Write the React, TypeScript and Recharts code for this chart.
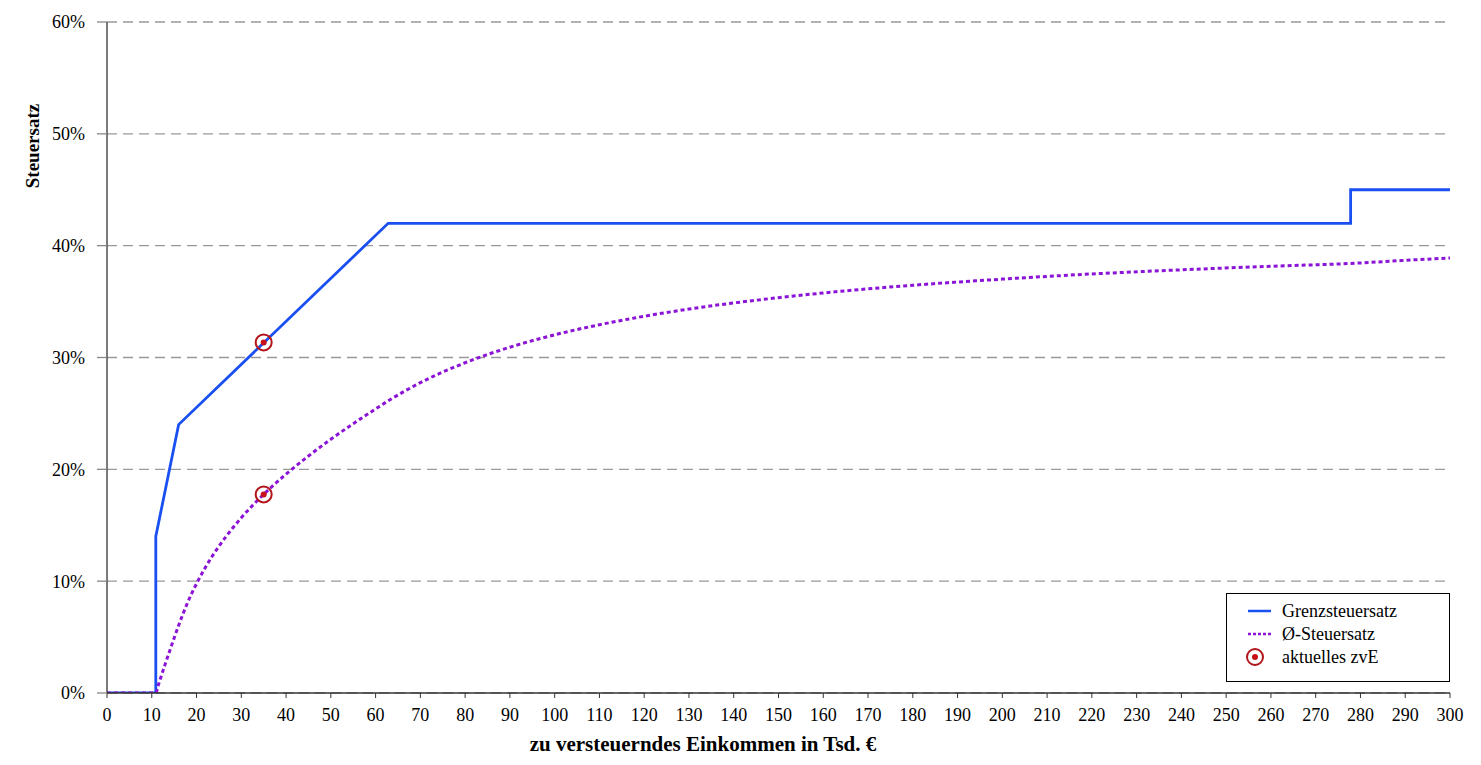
import React from 'react';
import {
  ComposedChart,
  Line,
  Scatter,
  XAxis,
  YAxis,
  CartesianGrid,
  Label,
} from 'recharts';

// Income in thousand euro (zvE) for the average tax rate curve
const avgIncome = [0, 5, 10, 10.9, 11.5, 12, 13, 14, 15, 16, 18, 20, 22, 25, 28, 30, 35, 40, 45, 50, 55, 60, 62.8, 70, 80, 90, 100, 110, 120, 130, 140, 150, 160, 180, 200, 220, 240, 260, 277.8, 290, 300];
// Average tax rate in %
const avgRate = [0, 0, 0, 0, 0.75, 1.37, 2.58, 3.76, 4.91, 6.04, 8.08, 9.78, 11.25, 13.12, 14.71, 15.67, 17.76, 19.57, 21.19, 22.69, 24.08, 25.4, 26.12, 27.75, 29.53, 30.92, 32.03, 32.93, 33.69, 34.33, 34.88, 35.35, 35.77, 36.46, 37.01, 37.47, 37.84, 38.16, 38.41, 38.69, 38.9];

// Marginal tax rate (Grenzsteuersatz)
const marginalIncome = [0, 10.9, 10.9, 16, 62.8, 277.8, 277.8, 300];
const marginalRate = [0, 0, 14, 24, 42, 42, 45, 45];

// Current taxable income marker
const currentIncome = [35, 35];
const currentRate = [31.35, 17.76];

const xTicks = [0, 10, 20, 30, 40, 50, 60, 70, 80, 90, 100, 110, 120, 130, 140, 150, 160, 170, 180, 190, 200, 210, 220, 230, 240, 250, 260, 270, 280, 290, 300];
const yTicks = [0, 10, 20, 30, 40, 50, 60];

const legendLabels = ['Grenzsteuersatz', 'Ø-Steuersatz', 'aktuelles zvE'];
const xTitle = 'zu versteuerndes Einkommen in Tsd. €';
const yTitle = 'Steuersatz';

const BLUE = '#1a4ff2';
const PURPLE = '#8b14d6';
const RED = '#b3161b';
const FONT = '"Liberation Serif", "Times New Roman", serif';

const avgData = avgIncome.map((x, i) => ({ x, y: avgRate[i] }));
const marginalData = marginalIncome.map((x, i) => ({ x, y: marginalRate[i] }));
const currentData = currentIncome.map((x, i) => ({ x, y: currentRate[i] }));

const MarkerShape = (props: any) => {
  const { cx, cy } = props;
  if (cx == null || cy == null) return <g />;
  return (
    <g>
      <circle cx={cx} cy={cy} r={8} fill="none" stroke={RED} strokeWidth={2} />
      <circle cx={cx} cy={cy} r={3} fill="#c8101a" />
    </g>
  );
};

export default function App() {
  return (
    <div style={{ position: 'absolute', left: 0, top: 0, width: 1481, height: 765, background: '#fff', fontFamily: FONT }}>
      <ComposedChart
        width={1481}
        height={765}
        margin={{ top: 22, right: 31, bottom: 42, left: 47 }}
        style={{ fontFamily: FONT }}
      >
        <CartesianGrid vertical={false} stroke="#999" strokeDasharray="10 6" strokeWidth={1.3} />
        <XAxis
          type="number"
          dataKey="x"
          domain={[0, 300]}
          ticks={xTicks}
          interval={0}
          height={30}
          tickSize={5}
          tickMargin={10}
          axisLine={{ stroke: '#333', strokeWidth: 1.3 }}
          tickLine={{ stroke: '#333', strokeWidth: 1 }}
          tick={{ fill: '#000', fontSize: 18, fontFamily: FONT }}
          allowDataOverflow
        >
          <Label
            content={() => (
              <text x={703} y={751} textAnchor="middle" fontSize={21} fontWeight="bold" fontFamily={FONT} fill="#000">
                {xTitle}
              </text>
            )}
          />
        </XAxis>
        <YAxis
          type="number"
          dataKey="y"
          domain={[0, 60]}
          ticks={yTicks}
          interval={0}
          width={60}
          tickSize={10}
          tickMargin={12}
          axisLine={{ stroke: '#333', strokeWidth: 1.3 }}
          tickLine={{ stroke: '#888', strokeWidth: 1.3 }}
          tick={{ fill: '#000', fontSize: 18, fontFamily: FONT }}
          tickFormatter={(v: number) => `${v}%`}
          allowDataOverflow
        >
          <Label
            content={() => (
              <text
                x={39}
                y={146}
                textAnchor="middle"
                fontSize={19}
                fontWeight="bold"
                fontFamily={FONT}
                fill="#000"
                transform="rotate(-90 39 146)"
              >
                {yTitle}
              </text>
            )}
          />
        </YAxis>
        <Line
          data={marginalData}
          dataKey="y"
          type="linear"
          stroke={BLUE}
          strokeWidth={2.8}
          dot={false}
          activeDot={false}
          isAnimationActive={false}
        />
        <Line
          data={avgData}
          dataKey="y"
          type="monotone"
          stroke={PURPLE}
          strokeWidth={3}
          strokeDasharray="4 3"
          dot={false}
          activeDot={false}
          isAnimationActive={false}
        />
        <Scatter data={currentData} dataKey="y" shape={MarkerShape} isAnimationActive={false} />
      </ComposedChart>

      <div
        style={{
          position: 'absolute',
          left: 1226,
          top: 593,
          width: 222,
          height: 87,
          border: '1px solid #000',
          background: '#fff',
          fontFamily: FONT,
          fontSize: 18,
          color: '#000',
        }}
      >
        <svg width={222} height={87} style={{ position: 'absolute', left: 0, top: 0 }}>
          <line x1={21} y1={17} x2={44} y2={17} stroke={BLUE} strokeWidth={2.5} />
          <line x1={21} y1={40} x2={44} y2={40} stroke={PURPLE} strokeWidth={2.5} strokeDasharray="3 2" />
          <circle cx={28} cy={63} r={8} fill="none" stroke={RED} strokeWidth={2} />
          <circle cx={28} cy={63} r={3} fill="#c8101a" />
          <text x={55} y={23} fontSize={18} fontFamily={FONT} fill="#000">{legendLabels[0]}</text>
          <text x={55} y={46} fontSize={18} fontFamily={FONT} fill="#000">{legendLabels[1]}</text>
          <text x={55} y={69} fontSize={18} fontFamily={FONT} fill="#000">{legendLabels[2]}</text>
        </svg>
      </div>
    </div>
  );
}
